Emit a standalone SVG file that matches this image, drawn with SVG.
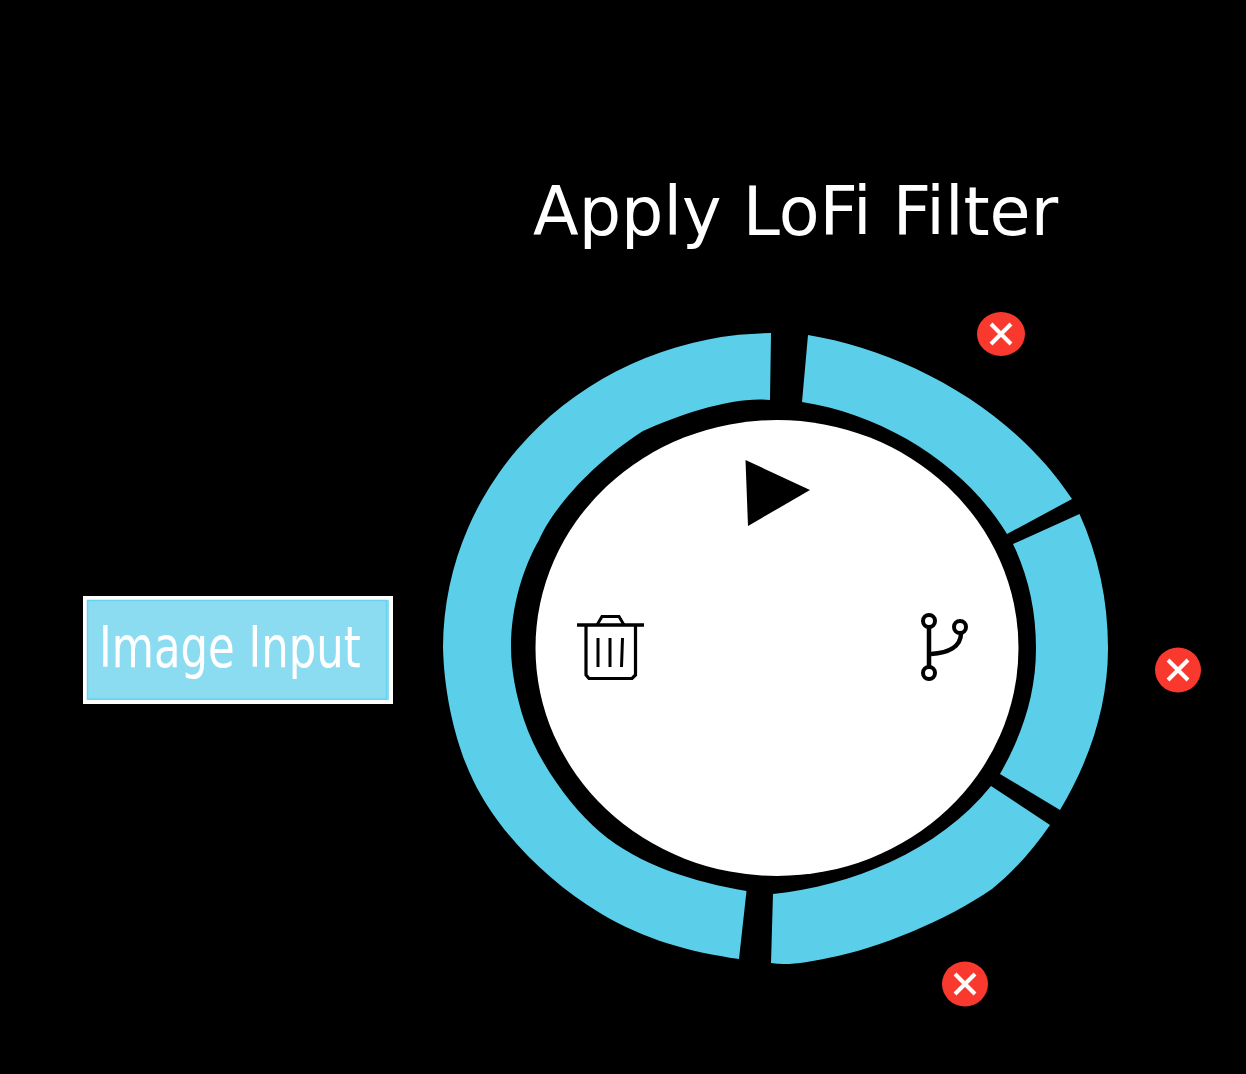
<svg xmlns="http://www.w3.org/2000/svg" width="1246" height="1074" viewBox="0 0 1246 1074">
<style>
.seg{fill:#5bcfea}
.close ellipse{fill:#f9392e}
.close path{stroke:#fff;stroke-width:4;fill:none}
.icon{fill:none;stroke:#000}
text{font-family:"DejaVu Sans",sans-serif;fill:#fff}
</style>
<rect width="1246" height="1074" fill="#000"/>
<g id="title"><text x="533" y="234.500" font-size="66.75">Apply LoFi Filter</text></g>
<g id="image-input">
<rect x="85" y="598" width="306" height="104" fill="#8cdcf1" stroke="#fff" stroke-width="4"/>
<rect x="87.500" y="600.500" width="299" height="98.500" fill="none" stroke="#68d3ec" stroke-width="1.500"/>
<text x="0" y="0" font-size="57.600" transform="translate(99 667) scale(0.753 1)">Image Input</text>
</g>
<g id="ring">
<path id="seg-left" class="seg" d="M771 333A332 315 0 0 0 443 647C444 695 456 745 473 780C497 830 545 880 600 913C645 940 690 952 739 959L746.500 891C695 882 640 866 600 832C570 806.500 537 760 524 720C516 695 511 670 511 647C511 605 524 566 539 540C552 510 590 465 643 431C680 414 735 396 770 400Z"/>
<path id="seg-top" class="seg" d="M808 335C900 350 1010 405 1072 499L1007 534C965 465 885 415 802 402Z"/>
<path id="seg-right" class="seg" d="M1079.500 514C1098 555 1108 600 1108 648C1108 705 1090 760 1060 810L1000 774C1022 735 1036 695 1036 648C1036 610 1028 575 1013 544Z"/>
<path id="seg-bottom" class="seg" d="M991 786L1050 825C1032 851 1013 872 992 889C945 921 880 948 828 958C808 962 788 966 771 963L773 894C850 886 938 852 991 786Z"/>
</g>
<g id="hub"><ellipse cx="777" cy="648" rx="241.500" ry="228" fill="#fff"/></g>
<g id="play"><path d="M745.500 460L810 490L748 526Z" fill="#000"/></g>
<g id="trash" class="icon">
<path d="M577 625H644" stroke-width="3.500"/>
<path d="M586 625V675L589 678.500H632L635.500 675V625" stroke-width="3.200"/>
<path d="M597 625L602 616.500H619L624 625" stroke-width="3"/>
<path d="M598 638V667M610 638V667M622.500 638L621.500 667" stroke-width="3"/>
</g>
<g id="fork" class="icon">
<circle cx="929" cy="621" r="6" stroke-width="4"/>
<circle cx="960" cy="627" r="6" stroke-width="4"/>
<circle cx="929" cy="673" r="6" stroke-width="4"/>
<path d="M929 627V667" stroke-width="4.500"/>
<path d="M931 654C948 653 961 647 961 633" stroke-width="4.500"/>
</g>
<g id="close-top" class="close"><ellipse cx="1001" cy="334" rx="24" ry="22"/><path d="M991 324L1011 344M1011 324L991 344"/></g>
<g id="close-right" class="close"><ellipse cx="1178" cy="670" rx="23" ry="22.500"/><path d="M1168 660L1188 680M1188 660L1168 680"/></g>
<g id="close-bottom" class="close"><ellipse cx="965" cy="984" rx="23" ry="22.500"/><path d="M955 974L975 994M975 974L955 994"/></g>
<g id="connectors"/>
</svg>
